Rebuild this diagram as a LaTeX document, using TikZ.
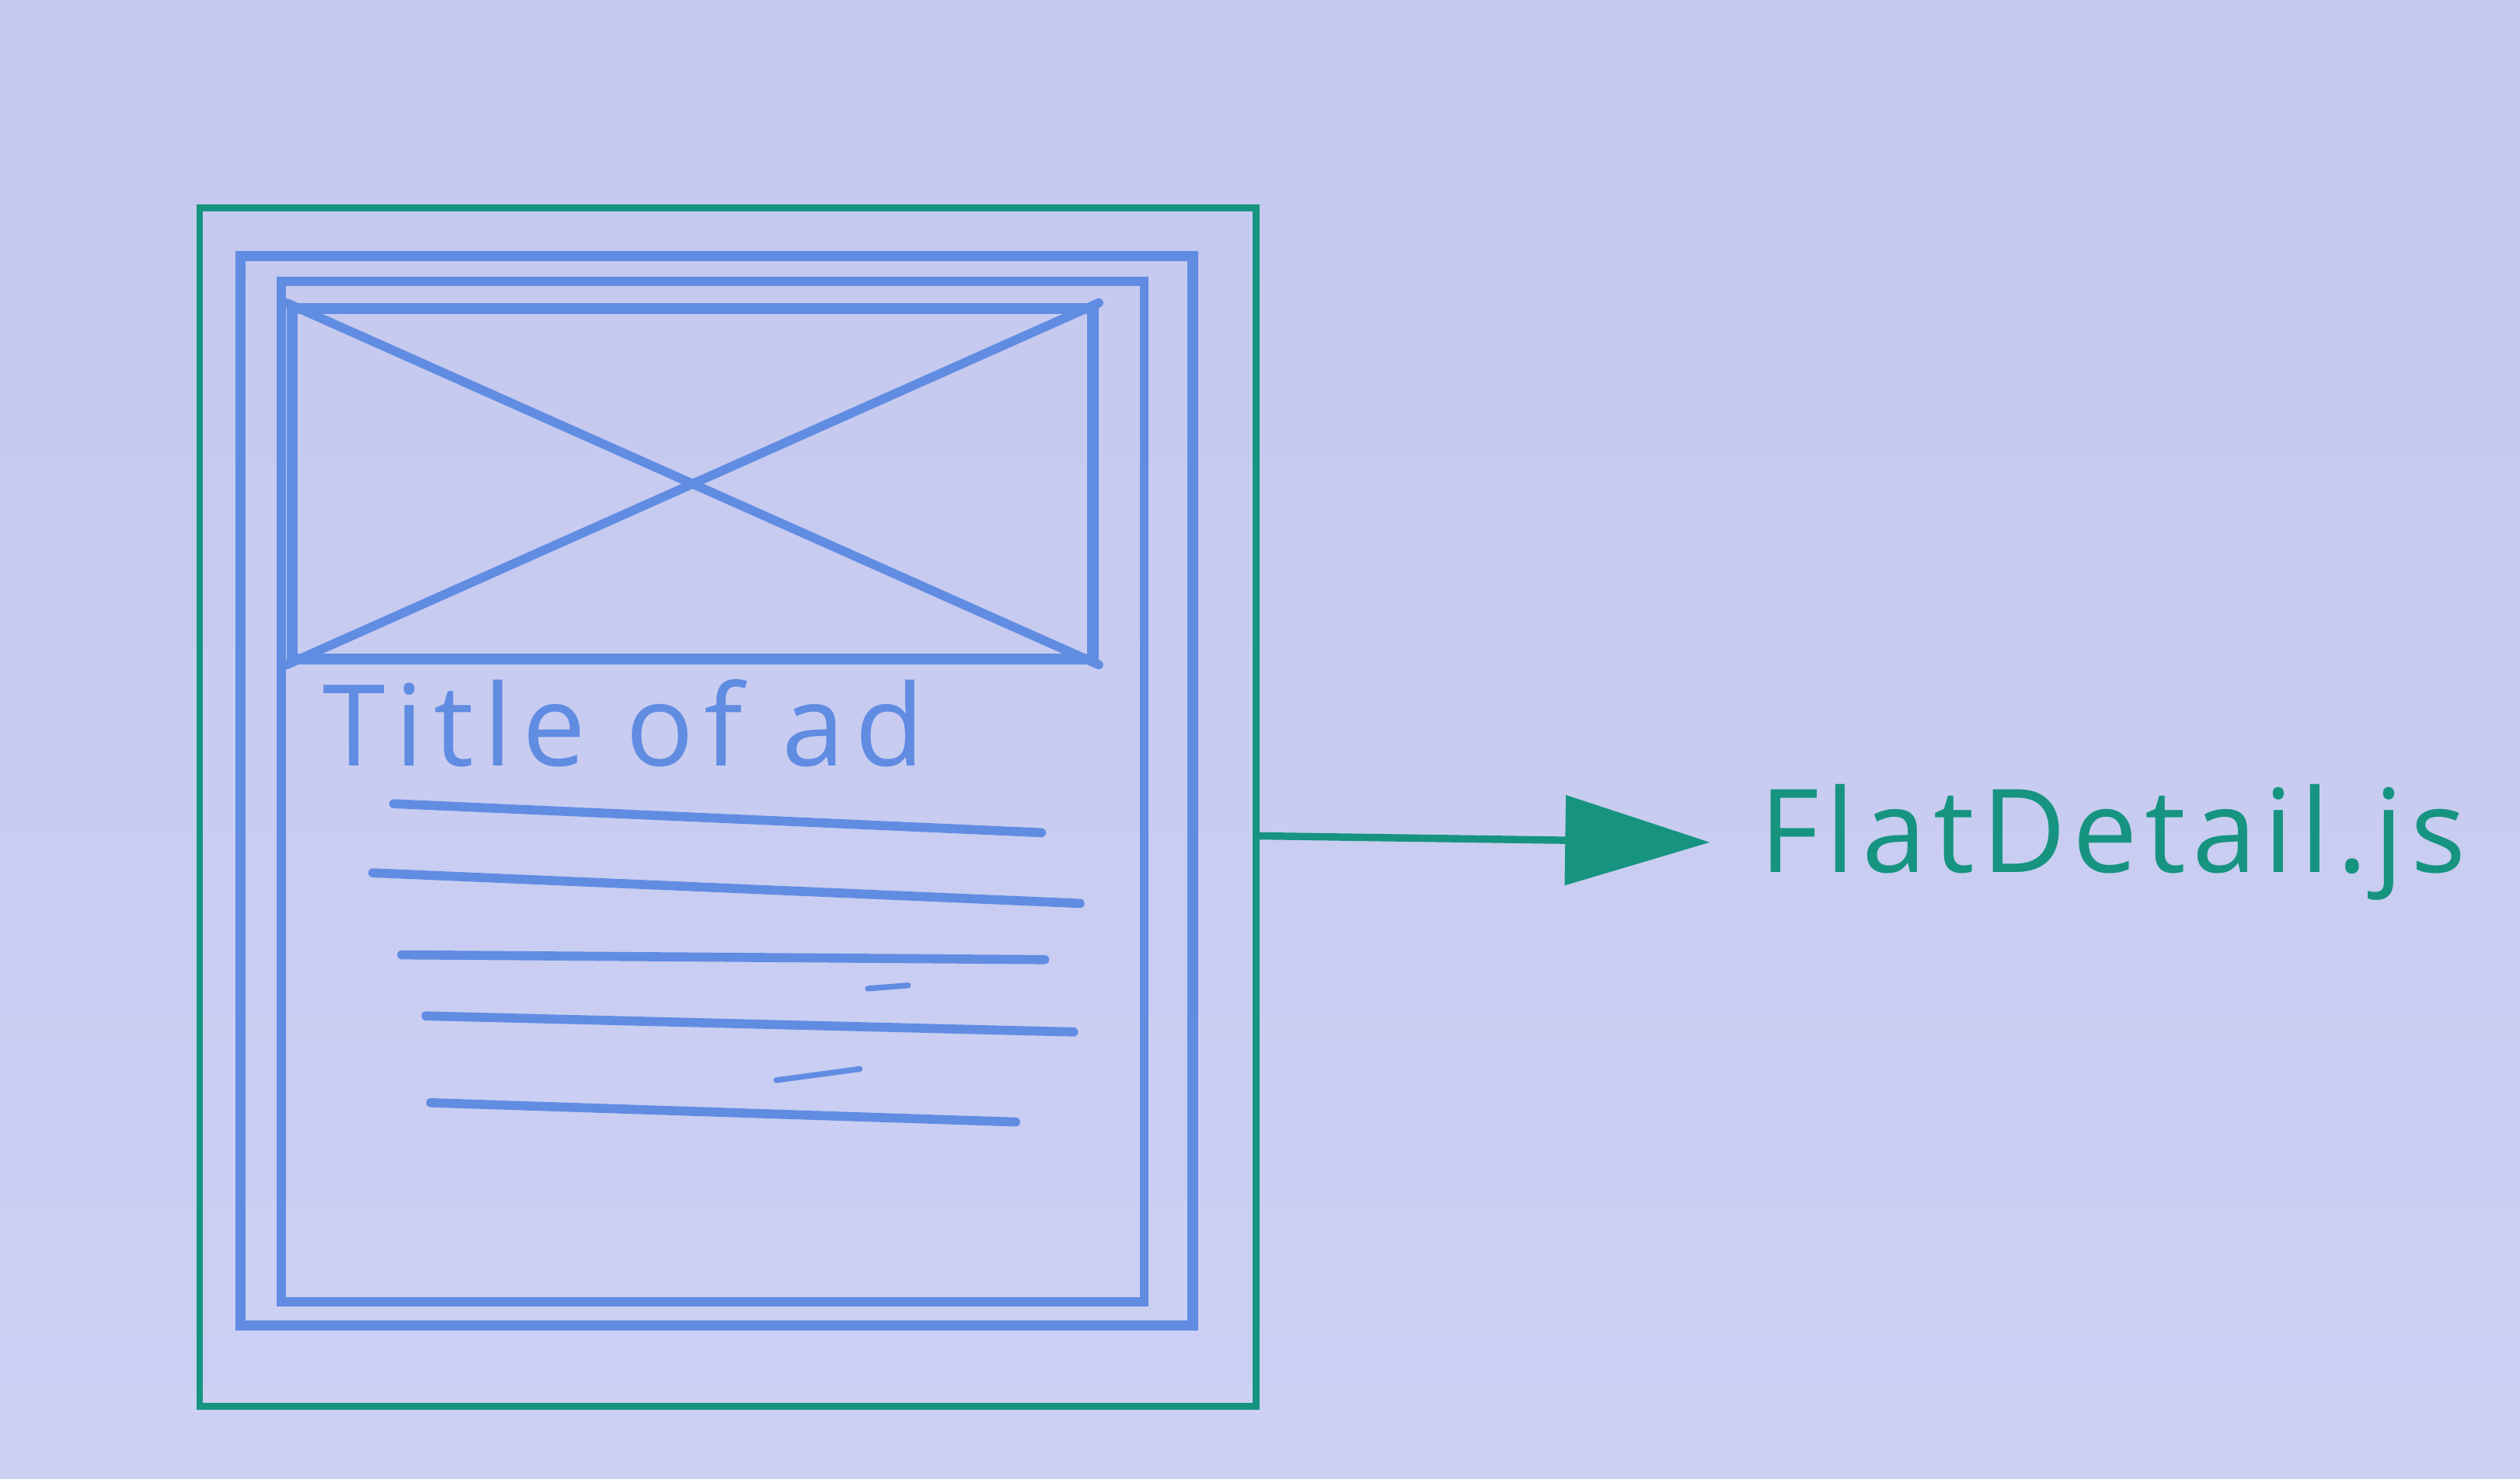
\documentclass[tikz,border=0pt]{standalone}
\usepackage{fontspec}
\newfontfamily\handfont[LetterSpace=9]{Open Sans}
\newfontfamily\filefont[LetterSpace=6]{Open Sans}
\usetikzlibrary{arrows.meta,positioning}
\definecolor{paper}{RGB}{196,200,238}
\definecolor{paperlight}{RGB}{204,208,243}
\definecolor{markgreen}{RGB}{22,148,128}
\definecolor{markblue}{RGB}{96,140,226}
\tikzset{
  frame/.style={draw=markgreen,line width=1.2pt,minimum width=6.57cm,minimum height=7.45cm,inner sep=0pt},
  card/.style={draw=markblue,line width=1.8pt,minimum width=5.92cm,minimum height=6.65cm,inner sep=0pt},
  pic/.style={draw=markblue,line width=2.0pt,minimum width=4.98cm,minimum height=2.18cm,inner sep=0pt},
  stroke/.style={markblue,line width=1.6pt,line cap=round},
  link/.style={markgreen,line width=1.3pt,-{Triangle[length=0.9cm,width=0.55cm]}},
  title/.style={text=markblue,font=\handfont\fontsize{20}{24}\selectfont,inner sep=0pt},
  label/.style={text=markgreen,font=\filefont\fontsize{20.5}{25}\selectfont,inner sep=0pt}
}
\begin{document}
\begin{tikzpicture}[x=0.01cm,y=-0.01cm]
  % Paper background and bounding box.
  \shade[top color=paper,bottom color=paperlight] (0,0) rectangle (1568,920);
  \useasboundingbox (0,0) rectangle (1568,920);

  % Outer component frame and the ad card inside it.
  \node[frame] (page) at (453,502) {};
  \node[card] (card) at (446,492) {};
  \draw[markblue,line width=1.6pt] (175,175) rectangle (712,810);

  % Image placeholder with its cross.
  \node[pic] (img) at (431,301) {};
  \draw[stroke] (img.north west)--(img.south east);
  \draw[stroke] (img.south west)--(img.north east);

  % Title and text lines of the ad.
  \node[title,anchor=west] (adtitle) at (200,450) {Title of ad};
  \draw[stroke] (245,500)--(648,518);
  \draw[stroke] (232,543)--(672,562);
  \draw[stroke] (250,594)--(650,597);
  \draw[stroke] (265,632)--(668,642);
  \draw[stroke] (268,686)--(632,698);
  \draw[stroke,line width=1.0pt] (540,615)--(565,613);
  \draw[stroke,line width=1.0pt] (483,672)--(535,665);

  % Component file name.
  \node[label,anchor=west] (file) at (1094,524) {FlatDetail.js};
  \draw[link] ([yshift=-0.18cm]page.east)--([xshift=-0.3cm]file.west);
\end{tikzpicture}
\end{document}
